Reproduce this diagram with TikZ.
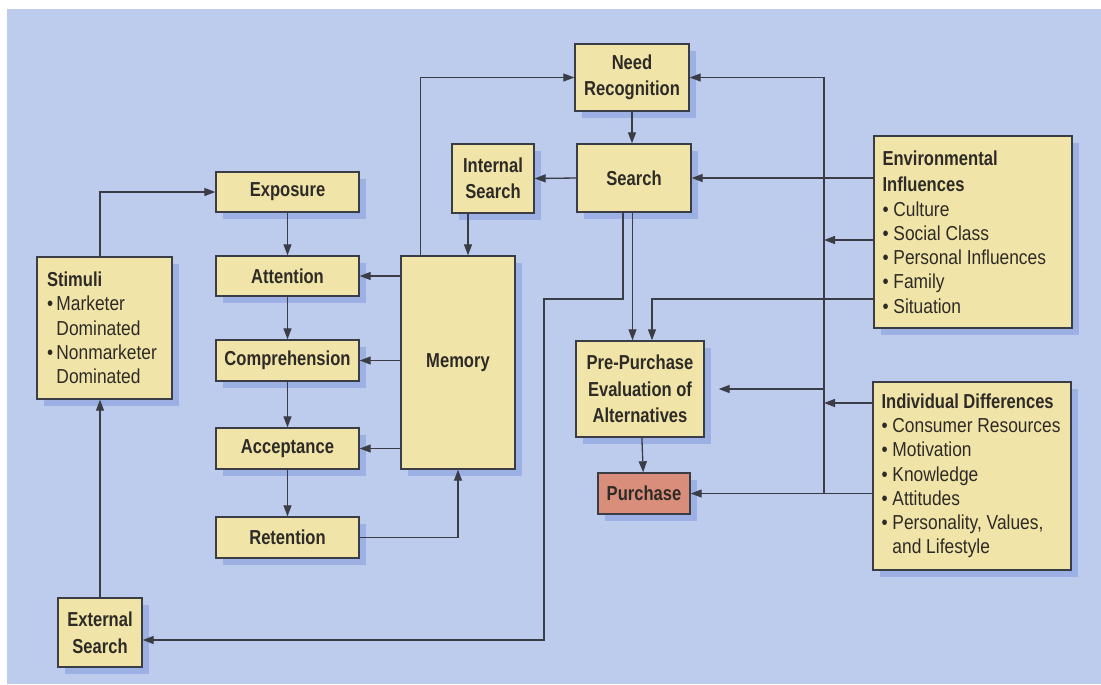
\documentclass[tikz,border=0pt]{standalone}
\usepackage{fontspec}
\setmainfont{Liberation Sans}[FakeStretch=0.86]
\newfontfamily\bfam{Liberation Sans}[FakeStretch=0.82]
\usetikzlibrary{arrows.meta,shadows,calc}
\definecolor{bg}{HTML}{BDCBEC}
\definecolor{boxc}{HTML}{F0E4A8}
\definecolor{purc}{HTML}{D98E7B}
\definecolor{shad}{HTML}{9CB0E3}
\definecolor{linec}{HTML}{3A3C46}
\definecolor{txtc}{HTML}{2E2B27}
\newcommand\hd[1]{{\bfam\bfseries #1}}
\newcommand\bu{\textbullet\ }
\newcommand\bt{\textbullet\,}
\tikzset{
  box/.style={draw=linec, line width=0.8pt, fill=boxc, inner sep=0pt, text=txtc,
    font=\bfam\bfseries\fontsize{11.5}{15.1}\selectfont, align=center,
    drop shadow={shadow xshift=0.14cm, shadow yshift=-0.14cm, fill=shad, opacity=1}},
  listbox/.style={box, align=flush left, inner xsep=0.2cm,
    font=\rmfamily\mdseries\fontsize{11.5}{13.8}\selectfont},
  arr/.style={draw=linec, line width=0.75pt, -{Triangle[length=0.22cm,width=0.16cm]}},
}
\begin{document}
\begin{tikzpicture}[x=0.02cm,y=-0.02cm]
\useasboundingbox (0,0) rectangle (1101,684);
\fill[white] (0,0) rectangle (1101,684);
\fill[bg] (7,9) rectangle (1101,684);

% nodes
\node[box, minimum width=2.28cm, minimum height=1.34cm] (need) at (632,77.5) {Need\\Recognition};
\node[box, minimum width=2.28cm, minimum height=1.36cm] (search) at (634,178) {Search};
\node[box, minimum width=1.64cm, minimum height=1.38cm] (isearch) at (493,178.5) {Internal\\Search};
\node[box, minimum width=2.86cm, minimum height=0.8cm] (expo) at (287.5,192) {Exposure};
\node[box, minimum width=2.86cm, minimum height=0.8cm] (atten) at (287.5,276) {Attention};
\node[box, minimum width=2.86cm, minimum height=0.82cm] (compr) at (287.5,360.5) {Comprehension};
\node[box, minimum width=2.86cm, minimum height=0.82cm] (accep) at (287.5,448.5) {Acceptance};
\node[box, minimum width=2.86cm, minimum height=0.82cm] (reten) at (287.5,537.5) {Retention};
\node[box, minimum width=2.28cm, minimum height=4.26cm] (memory) at (458,362.5) {Memory};
\node[listbox, text width=2.3cm, minimum height=2.84cm] (stim) at (104.5,328)
  {\hd{Stimuli}\\\bt Marketer\\\hphantom{\bt}Dominated\\\bt Nonmarketer\\\hphantom{\bt}Dominated};
\node[box, minimum width=1.68cm, minimum height=1.38cm] (ext) at (100,632.5) {External\\Search};
\node[listbox, inner xsep=0.17cm, text width=3.62cm, minimum height=3.84cm] (env) at (973,232)
  {\hd{Environmental}\\[1.3pt]\hd{Influences}\\\bu Culture\\\bu Social Class\\\bu Personal Influences\\\bu Family\\\bu Situation};
\node[listbox, inner xsep=0.17cm, text width=3.62cm, minimum height=3.76cm] (ind) at (972,476)
  {\hd{Individual Differences}\\\bu Consumer Resources\\\bu Motivation\\\bu Knowledge\\\bu Attitudes\\\bu Personality, Values,\\\hphantom{\bu}and Lifestyle};
\node[box, minimum width=2.56cm, minimum height=1.92cm] (pre) at (640,389) {Pre-Purchase\\Evaluation of\\Alternatives};
\node[box, fill=purc, minimum width=1.84cm, minimum height=0.82cm] (purch) at (644,493.5) {Purchase};

% connectors: left side
\draw[arr] (ext.north |- stim.north) |- (expo.west);
\draw[arr] (ext.north) -- (ext.north |- stim.south);
\draw[arr] (expo) -- (atten);
\draw[arr] (atten) -- (compr);
\draw[arr] (compr) -- (accep);
\draw[arr] (accep) -- (reten);
\draw[arr] (memory.west |- atten) -- (atten.east);
\draw[arr] (memory.west |- compr) -- (compr.east);
\draw[arr] (memory.west |- accep) -- (accep.east);
\draw[arr] (reten.east) -| (memory.south);
\draw[arr] ([xshift=0.4cm]memory.north west) |- (need.west);

% connectors: centre
\draw[arr] (need.south) -- (need.south |- search.north);
\draw[arr] (search.west) -- (isearch.east);
\draw[arr] ([xshift=-0.5cm]isearch.south) -- ([xshift=-0.5cm]isearch.south |- memory.north);
\draw[arr] ([xshift=-0.03cm]search.south) -- ([xshift=-0.03cm]search.south |- pre.north);
\draw[arr] ([xshift=-0.22cm]search.south) |- (544,299) |- ([yshift=-0.15cm]ext.east);
\draw[arr] (pre) -- (purch);

% connectors: right side
\coordinate (bb) at (824,493.5);
\draw[arr] (bb) |- (need.east);
\draw[arr] (env.west |- search.east) -- (search.east);
\draw[arr] (env.west |- 0,240) -- (bb |- 0,240);
\draw[arr] (env.west |- 0,299) -| ([xshift=0.24cm]pre.north);
\draw[arr] (bb |- pre.east) -- ([xshift=0.28cm]pre.east);
\draw[arr] (ind.west |- 0,403) -- (bb |- 0,403);
\draw[arr] (ind.west |- purch.east) -- (purch.east);
\end{tikzpicture}
\end{document}
